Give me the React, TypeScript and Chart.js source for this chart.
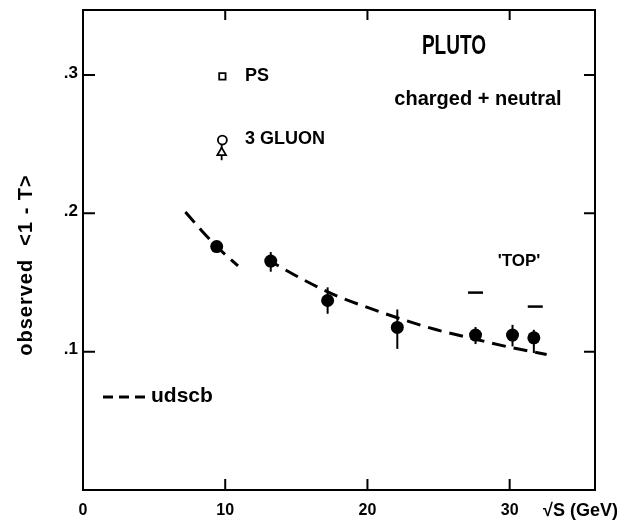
import React, { useEffect, useRef } from 'react';
import { Chart, registerables } from 'chart.js';

Chart.register(...registerables);

// ---- data ----
const energies = [9.4, 13.2, 17.2, 22.1, 27.6, 30.2, 31.7];
const thrust = [0.176, 0.1655, 0.137, 0.1175, 0.112, 0.112, 0.11];
const errUp = [0.004, 0.0065, 0.0095, 0.013, 0.0058, 0.0074, 0.0058];
const errDown = [0.004, 0.0077, 0.0096, 0.0155, 0.0065, 0.0082, 0.011];

const topEnergies = [27.6, 31.8];
const topValues = [0.1427, 0.1326];

const psEnergy = [9.8];
const psValue = [0.299];
const gluonCircleEnergy = [9.8];
const gluonCircleValue = [0.253];
const gluonTriEnergy = [9.75];
const gluonTriValue = [0.2439];
const gluonTriErr = [0.0055];

const curveAx = [7.2, 8.3, 9.4, 10.9];
const curveAy = [0.201, 0.188, 0.176, 0.162];
const curveBx = [12.9, 15.5, 17.8, 20.0, 22.1, 24.8, 27.6, 30.1, 32.6];
const curveBy = [0.167, 0.152, 0.1405, 0.132, 0.1245, 0.116, 0.109, 0.103, 0.098];

const xTicks = [0, 10, 20, 30];
const xTickLabels = ['0', '10', '20', '30'];
const yTicks = [0.1, 0.2, 0.3];
const yTickLabels = ['.1', '.2', '.3'];

const FONT = '"Liberation Sans", Arial, sans-serif';

const pts = (xs: number[], ys: number[]) => xs.map((v, i) => ({ x: v, y: ys[i] }));

const decor = {
  id: 'decor',
  beforeDatasetsDraw(chart: any) {
    const { ctx, scales } = chart;
    const x = scales.x, y = scales.y;
    ctx.save();
    ctx.strokeStyle = '#000';
    ctx.lineWidth = 2;
    energies.forEach((e, i) => {
      const px = x.getPixelForValue(e);
      ctx.beginPath();
      ctx.moveTo(px, y.getPixelForValue(thrust[i] + errUp[i]));
      ctx.lineTo(px, y.getPixelForValue(thrust[i] - errDown[i]));
      ctx.stroke();
    });
    ctx.lineWidth = 1.8;
    gluonTriEnergy.forEach((e, i) => {
      const px = x.getPixelForValue(e);
      ctx.beginPath();
      ctx.moveTo(px, y.getPixelForValue(gluonTriValue[i] + gluonTriErr[i]));
      ctx.lineTo(px, y.getPixelForValue(gluonTriValue[i] - gluonTriErr[i]));
      ctx.stroke();
    });
    ctx.restore();
  },
  afterDraw(chart: any) {
    const { ctx, chartArea, scales } = chart;
    const x = scales.x, y = scales.y;
    const { left, right, top, bottom } = chartArea;
    ctx.save();
    ctx.strokeStyle = '#000';
    ctx.fillStyle = '#000';
    ctx.lineWidth = 2;
    ctx.setLineDash([]);
    ctx.strokeRect(left, top, right - left, bottom - top);
    // inward ticks
    xTicks.forEach((t) => {
      const px = x.getPixelForValue(t);
      if (px <= left + 1) return;
      ctx.beginPath();
      ctx.moveTo(px, bottom);
      ctx.lineTo(px, bottom - 11);
      ctx.moveTo(px, top);
      ctx.lineTo(px, top + 10);
      ctx.stroke();
    });
    yTicks.forEach((t) => {
      const py = y.getPixelForValue(t);
      ctx.beginPath();
      ctx.moveTo(left, py);
      ctx.lineTo(left + 12, py);
      ctx.moveTo(right, py);
      ctx.lineTo(right - 11, py);
      ctx.stroke();
    });
    // tick labels
    ctx.font = `bold 16px ${FONT}`;
    ctx.textAlign = 'center';
    ctx.textBaseline = 'middle';
    xTicks.forEach((t, i) => {
      ctx.fillText(xTickLabels[i], x.getPixelForValue(t), bottom + 21);
    });
    ctx.font = `bold 17px ${FONT}`;
    ctx.textAlign = 'right';
    yTicks.forEach((t, i) => {
      ctx.fillText(yTickLabels[i], left - 5, y.getPixelForValue(t) - 2);
    });
    // x axis title
    ctx.font = `bold 18px ${FONT}`;
    ctx.textAlign = 'left';
    ctx.fillText('\u221AS (GeV)', 543, bottom + 21);
    // y axis title
    ctx.save();
    ctx.translate(26, 265);
    ctx.rotate(-Math.PI / 2);
    ctx.font = `bold 20px ${FONT}`;
    ctx.textAlign = 'center';
    (ctx as any).letterSpacing = '1px';
    ctx.fillText('observed  <1 - T>', 0, 0);
    ctx.restore();
    // PLUTO
    ctx.save();
    ctx.translate(454, 46);
    ctx.scale(0.68, 1);
    ctx.font = `bold 28px ${FONT}`;
    ctx.textAlign = 'center';
    ctx.fillText('PLUTO', 0, 0);
    ctx.restore();
    ctx.font = `bold 20px ${FONT}`;
    ctx.textAlign = 'center';
    ctx.fillText('charged + neutral', 478, 99);
    // theory labels
    ctx.font = `bold 18px ${FONT}`;
    ctx.textAlign = 'left';
    ctx.fillText('PS', 245, y.getPixelForValue(psValue[0]));
    ctx.fillText('3 GLUON', 245, y.getPixelForValue(gluonCircleValue[0]) - 1);
    // TOP label
    ctx.font = `bold 17px ${FONT}`;
    ctx.textAlign = 'center';
    ctx.fillText("'TOP'", 519, 261);
    // legend
    ctx.lineWidth = 3;
    ctx.setLineDash([10, 6]);
    ctx.beginPath();
    ctx.moveTo(103, 397);
    ctx.lineTo(145, 397);
    ctx.stroke();
    ctx.setLineDash([]);
    ctx.font = `bold 21px ${FONT}`;
    ctx.textAlign = 'left';
    ctx.fillText('udscb', 151, 396);
    ctx.restore();
  },
};

export default function App() {
  const ref = useRef<HTMLCanvasElement>(null);
  useEffect(() => {
    if (!ref.current) return;
    const chart = new Chart(ref.current, {
      type: 'scatter',
      data: {
        datasets: [
          {
            label: 'data',
            data: pts(energies, thrust),
            pointRadius: 6.5,
            pointBackgroundColor: '#000',
            pointBorderColor: '#000',
            borderWidth: 0,
          },
          {
            label: 'TOP',
            data: pts(topEnergies, topValues),
            pointStyle: 'line',
            pointRadius: 7.5,
            pointBorderWidth: 2.5,
            pointBorderColor: '#000',
          },
          {
            label: 'PS',
            data: pts(psEnergy, psValue),
            pointStyle: 'rect',
            pointRadius: 4.5,
            pointBorderWidth: 1.8,
            pointBackgroundColor: '#fff',
            pointBorderColor: '#000',
          },
          {
            label: '3 GLUON circle',
            data: pts(gluonCircleEnergy, gluonCircleValue),
            pointStyle: 'circle',
            pointRadius: 4.5,
            pointBorderWidth: 1.8,
            pointBackgroundColor: '#fff',
            pointBorderColor: '#000',
          },
          {
            label: '3 GLUON triangle',
            data: pts(gluonTriEnergy, gluonTriValue),
            pointStyle: 'triangle',
            pointRadius: 5,
            pointBorderWidth: 1.8,
            pointBackgroundColor: '#fff',
            pointBorderColor: '#000',
          },
          {
            type: 'line',
            label: 'udscb low',
            data: pts(curveAx, curveAy),
            borderColor: '#000',
            borderWidth: 3,
            borderDash: [14, 8],
            pointRadius: 0,
            cubicInterpolationMode: 'monotone',
            fill: false,
          } as any,
          {
            type: 'line',
            label: 'udscb',
            data: pts(curveBx, curveBy),
            borderColor: '#000',
            borderWidth: 3,
            borderDash: [14, 8],
            pointRadius: 0,
            cubicInterpolationMode: 'monotone',
            fill: false,
          } as any,
        ],
      },
      options: {
        animation: false,
        responsive: false,
        maintainAspectRatio: false,
        layout: { padding: { left: 83, right: 49, top: 8, bottom: 30 } },
        plugins: { legend: { display: false }, tooltip: { enabled: false } },
        scales: {
          x: { type: 'linear', min: 0, max: 36, display: false },
          y: { type: 'linear', min: 0, max: 0.347, display: false },
        },
      },
      plugins: [decor],
    });
    return () => chart.destroy();
  }, []);
  return (
    <div style={{ position: 'absolute', left: 0, top: 0, width: 644, height: 520, background: '#fff' }}>
      <canvas ref={ref} width={644} height={520} />
    </div>
  );
}
